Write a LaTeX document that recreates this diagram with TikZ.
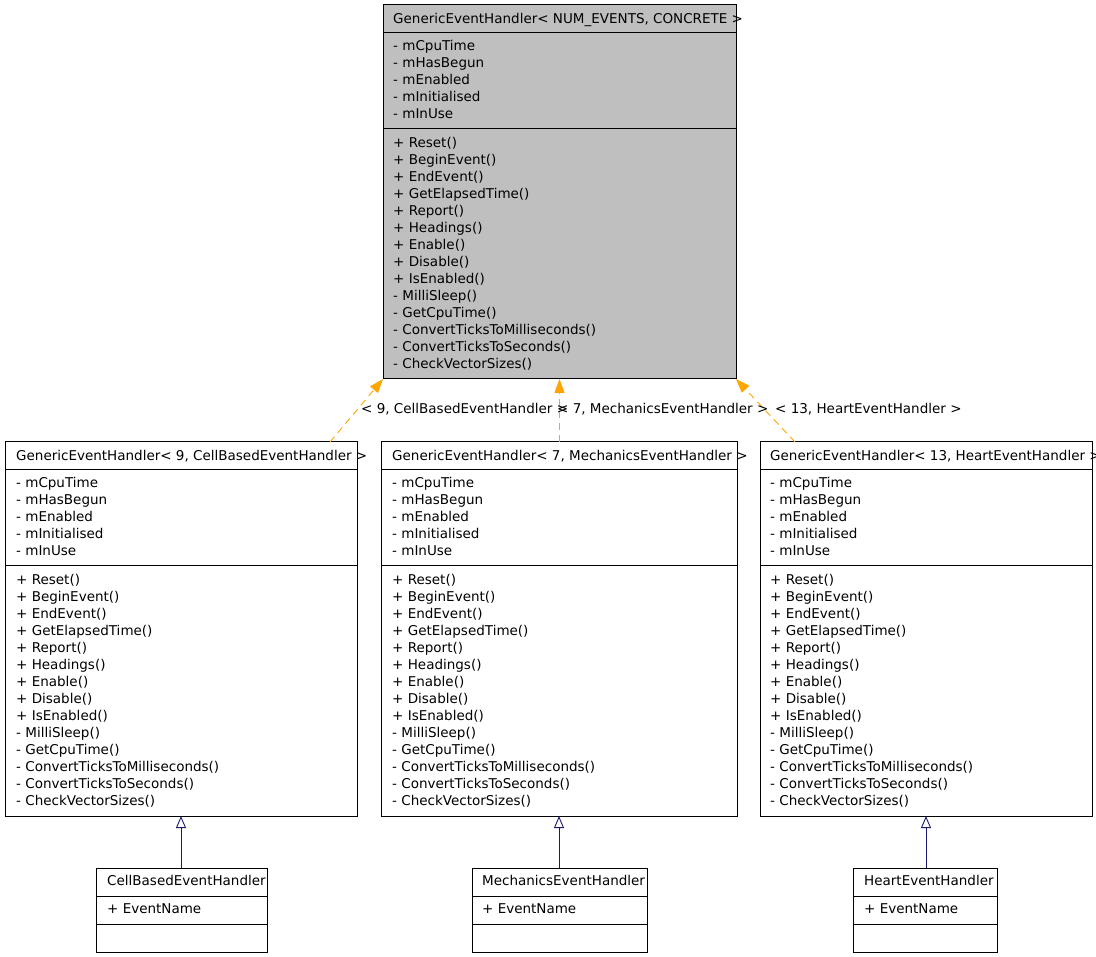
\documentclass[tikz,border=0pt]{standalone}
\usepackage{fontspec}
\setmainfont{DejaVu Sans}
\usetikzlibrary{arrows.meta}
\definecolor{tmplorange}{HTML}{FFA500}
\definecolor{inhblue}{HTML}{191970}
\definecolor{topgray}{HTML}{BFBFBF}
\tikzset{
 cls/.style={draw=black, line width=1pt, anchor=north west, inner sep=0pt, outer sep=0pt},
 sepline/.style={draw=black, line width=1pt},
 txt/.style={anchor=base west, inner sep=0pt, font=\fontsize{13.5}{17}\selectfont},
 lbl/.style={anchor=base west, inner sep=0pt, font=\fontsize{13.5}{17}\selectfont},
 tmpl/.style={draw=tmplorange, line width=0.9pt, dash pattern=on 7pt off 5pt, -{Triangle[length=14pt,width=10pt,fill=tmplorange]}},
 inh/.style={draw=inhblue, line width=0.9pt, -{Triangle[open,length=12pt,width=10pt,fill=white]}},
}
% #1 name, #2 x1, #3 x2, #4 top, #5 text x, #6 fill, #7 title
\newcommand\bigclass[7]{%
 \node[cls, fill=#6, minimum width={#3-#2}, minimum height=374] (#1) at (#2,#4) {};
 \draw[sepline] (#2,#4+28) -- (#3,#4+28);
 \draw[sepline] (#2,#4+124) -- (#3,#4+124);
 \node[txt] (#1-title) at (#5,#4+18.5) {#7};
 \foreach \t [count=\i from 0] in {- mCpuTime,- mHasBegun,- mEnabled,- mInitialised,- mInUse}
   \node[txt] (#1-a\i) at (#5,#4+45.5+17*\i) {\t};
 \foreach \t [count=\i from 0] in {+ Reset(),+ BeginEvent(),+ EndEvent(),+ GetElapsedTime(),+ Report(),+ Headings(),+ Enable(),+ Disable(),+ IsEnabled(),- MilliSleep(),- GetCpuTime(),- ConvertTicksToMilliseconds(),- ConvertTicksToSeconds(),- CheckVectorSizes()}
   \node[txt] (#1-m\i) at (#5,#4+142.5+17*\i) {\t};
}
% #1 name, #2 x1, #3 x2, #4 top, #5 text x, #6 title
\newcommand\smallclass[6]{%
 \node[cls, fill=white, minimum width={#3-#2}, minimum height=84] (#1) at (#2,#4) {};
 \draw[sepline] (#2,#4+28) -- (#3,#4+28);
 \draw[sepline] (#2,#4+56) -- (#3,#4+56);
 \node[txt] (#1-title) at (#5,#4+17.5) {#6};
 \node[txt] (#1-a0) at (#5,#4+45.5) {+ EventName};
}
\begin{document}
\begin{tikzpicture}[x=1pt,y=-1pt]
\useasboundingbox[fill=white] (0,0) rectangle (1096,957);
\bigclass{top}{383}{736}{5}{393}{topgray}{GenericEventHandler< NUM\_EVENTS, CONCRETE >}
\bigclass{gl}{5}{357}{442}{16}{white}{GenericEventHandler< 9, CellBasedEventHandler >}
\bigclass{gm}{381}{737}{442}{392}{white}{GenericEventHandler< 7, MechanicsEventHandler >}
\bigclass{gr}{760}{1092}{442}{770}{white}{GenericEventHandler< 13, HeartEventHandler >}
\smallclass{cl}{96}{267}{868}{107}{CellBasedEventHandler}
\smallclass{cm}{472}{647}{868}{482}{MechanicsEventHandler}
\smallclass{cr}{853}{997}{868}{864}{HeartEventHandler}
% template instantiation connectors
\coordinate (glin) at (330,442);
\coordinate (grin) at (795,442);
\draw[tmpl] (glin) -- (top.south west);
\draw[tmpl] (gm.north -| top.south) -- (top.south);
\draw[tmpl] (grin) -- (top.south east);
\node[lbl] (lgl) at (361,413.5) {< 9, CellBasedEventHandler >};
\node[lbl] (lgm) at (557,413.5) {< 7, MechanicsEventHandler >};
\node[lbl] (lgr) at (775,413.5) {< 13, HeartEventHandler >};
% inheritance connectors
\draw[inh] (cl.north -| gl.south) -- (gl.south);
\draw[inh] (cm.north -| gm.south) -- (gm.south);
\draw[inh] (cr.north -| gr.south) -- (gr.south);
\end{tikzpicture}
\end{document}
